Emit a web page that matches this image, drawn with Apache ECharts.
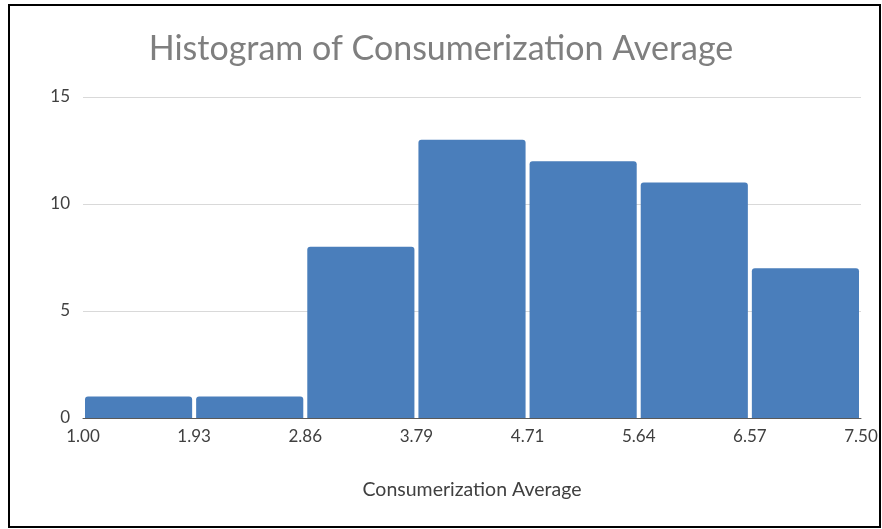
<!DOCTYPE html>
<html>
<head>
<meta charset="utf-8">
<script src="https://cdn.jsdelivr.net/npm/echarts@6/dist/echarts.min.js"></script>
<style>
  html, body { margin: 0; padding: 0; background: #fff; }
  #chart { width: 882px; height: 529px; }
</style>
</head>
<body>
<div id="chart"></div>
<script>
// Bin edges of the histogram and the count in each bin
const binEdges = [1.00, 1.93, 2.86, 3.79, 4.71, 5.64, 6.57, 7.50];
const binLabels = ['1.00–1.93', '1.93–2.86', '2.86–3.79', '3.79–4.71', '4.71–5.64', '5.64–6.57', '6.57–7.50'];
const counts = [1, 1, 8, 13, 12, 11, 7];
const yTicks = [0, 5, 10, 15];

const FONT = 'Lato, "Open Sans", sans-serif';
const chart = echarts.init(document.getElementById('chart'), null, { renderer: 'canvas' });

const xMin = binEdges[0];
const xMax = binEdges[binEdges.length - 1];
const binStep = (xMax - xMin) / counts.length;

chart.setOption({
  animation: false,
  backgroundColor: '#ffffff',
  title: {
    text: 'Histogram of Consumerization Average',
    left: 'center',
    top: 27,
    textStyle: { fontFamily: FONT, fontSize: 34, fontWeight: 'normal', color: '#7f7f7f' }
  },
  grid: { left: 83, right: 21, top: 97, bottom: 111, containLabel: false },
  xAxis: [
    {
      // bins, one category per bar
      type: 'category',
      data: binLabels,
      boundaryGap: true,
      show: false
    },
    {
      // value scale showing the bin edges
      type: 'value',
      position: 'bottom',
      min: xMin,
      max: xMax,
      interval: binStep,
      axisLine: { show: true, lineStyle: { color: '#595959', width: 1 } },
      axisTick: { show: false },
      splitLine: { show: false },
      axisLabel: {
        margin: 10,
        fontFamily: FONT,
        fontSize: 17,
        color: '#404040',
        showMinLabel: true,
        showMaxLabel: true,
        formatter: function (v) {
          const i = Math.round((v - xMin) / binStep);
          return binEdges[i] !== undefined ? binEdges[i].toFixed(2) : '';
        }
      },
      name: 'Consumerization Average',
      nameLocation: 'middle',
      nameGap: 62,
      nameTextStyle: { fontFamily: FONT, fontSize: 19.5, color: '#404040' }
    }
  ],
  yAxis: {
    type: 'value',
    min: yTicks[0],
    max: yTicks[yTicks.length - 1],
    interval: 5,
    axisLine: { show: false },
    axisTick: { show: false },
    axisLabel: { margin: 13, fontFamily: FONT, fontSize: 17, color: '#404040' },
    splitLine: { lineStyle: { color: '#d9d9d9', width: 1 } }
  },
  series: [{
    type: 'bar',
    xAxisIndex: 0,
    data: counts,
    barCategoryGap: '3.6%',
    itemStyle: { color: '#4a7ebb', borderRadius: [3, 3, 0, 0] },
    z: 1
  }],
  graphic: [{
    type: 'rect',
    shape: { x: 9, y: 5, width: 871, height: 522 },
    style: { fill: null, stroke: '#000000', lineWidth: 2 },
    silent: true,
    z: 100
  }]
});
</script>
</body>
</html>
